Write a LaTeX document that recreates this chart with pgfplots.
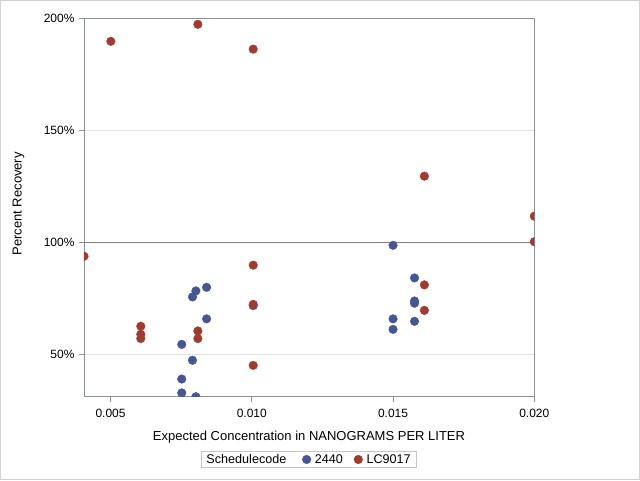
\documentclass[border=0pt]{standalone}
\usepackage{pgfplots}
\pgfplotsset{compat=1.18}
\usepackage{fontspec}
\setmainfont{Liberation Sans}
\definecolor{sasblue}{HTML}{445694}
\definecolor{sasred}{HTML}{A23A2E}
\definecolor{axgray}{HTML}{8C9196}
\begin{document}
\begin{tikzpicture}[x=1pt,y=1pt]
\useasboundingbox (0,0) rectangle (640,480);
\draw[gray!35, line width=1pt] (0.5,0.5) rectangle (639.5,479.5);
\begin{axis}[
  at={(84pt,83.3pt)}, anchor=south west,
  scale only axis, width=450.3pt, height=378.2pt,
  xmin=0.00406, xmax=0.020, ymin=30.9, ymax=200,
  xtick={0.005,0.010,0.015,0.020},
  xticklabels={0.005,0.010,0.015,0.020},
  ytick={50,100,150,200},
  yticklabels={50\%,100\%,150\%,200\%},
  scaled x ticks=false,
  xtick pos=bottom, ytick pos=left,
  tick align=outside, major tick length=5pt,
  tick style={axgray, line width=0.8pt},
  axis line style={axgray, line width=0.8pt},
  ymajorgrids, grid style={gray!22, line width=0.8pt},
  ticklabel style={font=\fontsize{12}{14}\selectfont},
  xticklabel style={yshift=-4pt},
  yticklabel style={xshift=-1pt},
  xlabel={Expected Concentration in NANOGRAMS PER LITER},
  ylabel={Percent Recovery},
  every axis x label/.style={at={(axis description cs:0.4997,-0.1058)}, anchor=center, font=\fontsize{13}{15}\selectfont},
  every axis y label/.style={at={(axis description cs:-0.1455,0.51)}, rotate=90, anchor=center, font=\fontsize{13}{15}\selectfont},
  clip marker paths=true,
  legend columns=-1,
  legend style={at={(axis description cs:0.4988,-0.166)}, anchor=center, draw=gray!45, font=\fontsize{12.6}{14}\selectfont, inner xsep=3pt, inner ysep=0.5pt,
    nodes={inner xsep=2pt}},
]
\addlegendimage{empty legend}
\addlegendentry{Schedulecode\hspace*{14pt}\mbox{}}
\addplot[gray, line width=0.8pt, forget plot] coordinates {(0.00406,100) (0.020,100)};
\addplot[only marks, mark=*, mark size=4.3pt, color=sasblue, mark options={draw=sasblue, fill=sasblue}] coordinates {
(0.00802,78.2) (0.0079,75.5) (0.0084,79.8) (0.0084,65.7) (0.00752,54.3) (0.0079,47.2)
(0.00752,38.8) (0.00752,32.6) (0.00802,30.9) (0.01005,71.6)
(0.015,98.6) (0.01576,84.0) (0.01576,73.7) (0.01576,72.7) (0.01576,64.6) (0.015,65.7) (0.015,61.0)
};
\addlegendentry{\mbox{}\hspace*{2pt}2440\hspace*{9pt}\mbox{}}
\addplot[only marks, mark=*, mark size=4.3pt, color=sasred, mark options={draw=sasred, fill=sasred}] coordinates {
(0.00501,189.8) (0.00809,197.4) (0.01005,186.3) (0.01611,129.5) (0.020,111.6) (0.020,100.2)
(0.00406,93.7) (0.01005,89.7) (0.01005,72.2) (0.00607,62.4) (0.00607,58.8) (0.00607,56.9)
(0.00809,60.3) (0.00809,56.9) (0.01005,44.9) (0.01611,80.9) (0.01611,69.5)
};
\addlegendentry{\mbox{}\hspace*{2pt}LC9017}
\node[anchor=west, font=\fontsize{12}{14}\selectfont, inner sep=0pt] at (axis cs:0.020,100) [xshift=6pt] {100\% Recovery};
\end{axis}
\end{tikzpicture}
\end{document}
